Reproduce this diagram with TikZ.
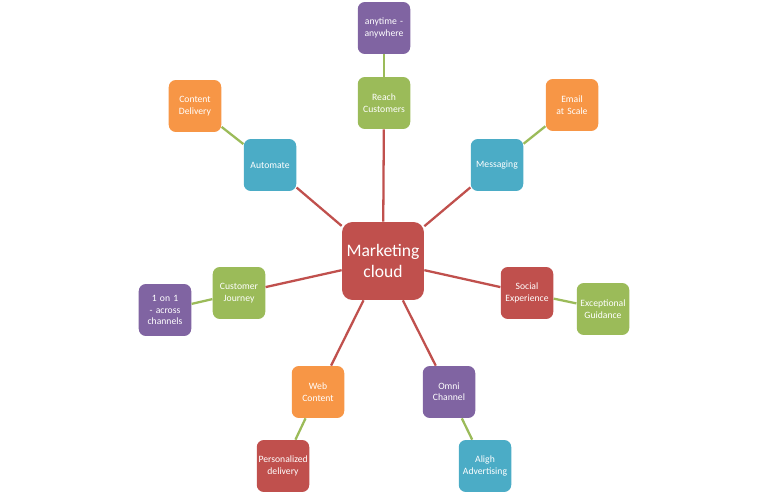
\documentclass[tikz,border=0pt]{standalone}
\usepackage{fontspec}
\setmainfont{Carlito}
\definecolor{mred}{HTML}{C0504D}
\definecolor{mgreen}{HTML}{9BBB59}
\definecolor{mblue}{HTML}{4BACC6}
\definecolor{morange}{HTML}{F79646}
\definecolor{mpurple}{HTML}{8064A2}
\begin{document}
\begin{tikzpicture}[x=0.02cm,y=-0.02cm,
  box/.style = {rounded corners=4pt, minimum width=1.04cm, minimum height=1.04cm,
    text width=0.98cm, align=center, text=white, font=\fontsize{5.5}{6.5}\selectfont, inner sep=1pt},
  hub/.style = {box, fill=mred, minimum width=1.64cm, minimum height=1.56cm,
    text width=1.5cm, font=\fontsize{10}{12}\selectfont, rounded corners=6pt},
  spoke/.style = {mred, line width=1.3pt},
  leaf/.style = {mgreen, line width=1.3pt}]
  \useasboundingbox (0,0) rectangle (768,496);
  \node[hub] at (383,261) (mc) {Marketing cloud};
  % first ring
  \node[box, fill=mgreen] at (384,103) (reach) {Reach Customers};
  \node[box, fill=mblue] at (497,165) (msg) {Messaging};
  \node[box, fill=mblue] at (270,165) (auto) {Automate};
  \node[box, fill=mgreen] at (239,293) (journey) {Customer Journey};
  \node[box, fill=mred] at (527,293) (social) {Social Experience};
  \node[box, fill=morange] at (318,392) (web) {Web Content};
  \node[box, fill=mpurple] at (449,392) (omni) {Omni Channel};
  % second ring
  \node[box, fill=mpurple] at (384,28) (anytime) {anytime - anywhere};
  \node[box, fill=morange] at (572,105) (email) {Email at Scale};
  \node[box, fill=morange] at (195,106) (content) {Content Delivery};
  \node[box, fill=mpurple] at (165,310) (one) {1 on 1 - across channels};
  \node[box, fill=mgreen] at (603,309) (guide) {Exceptional Guidance};
  \node[box, fill=mred] at (283,466) (pers) {Personalized delivery};
  \node[box, fill=mblue] at (485,466) (align) {Aligh Advertising};
  \foreach \n in {reach,msg,auto,journey,social,web,omni}
    \draw[spoke] (mc) -- (\n);
  \draw[leaf] (reach) -- (anytime);
  \draw[leaf] (msg) -- (email);
  \draw[leaf] (auto) -- (content);
  \draw[leaf] (journey) -- (one);
  \draw[leaf] (social) -- (guide);
  \draw[leaf] (web) -- (pers);
  \draw[leaf] (omni) -- (align);
\end{tikzpicture}
\end{document}
